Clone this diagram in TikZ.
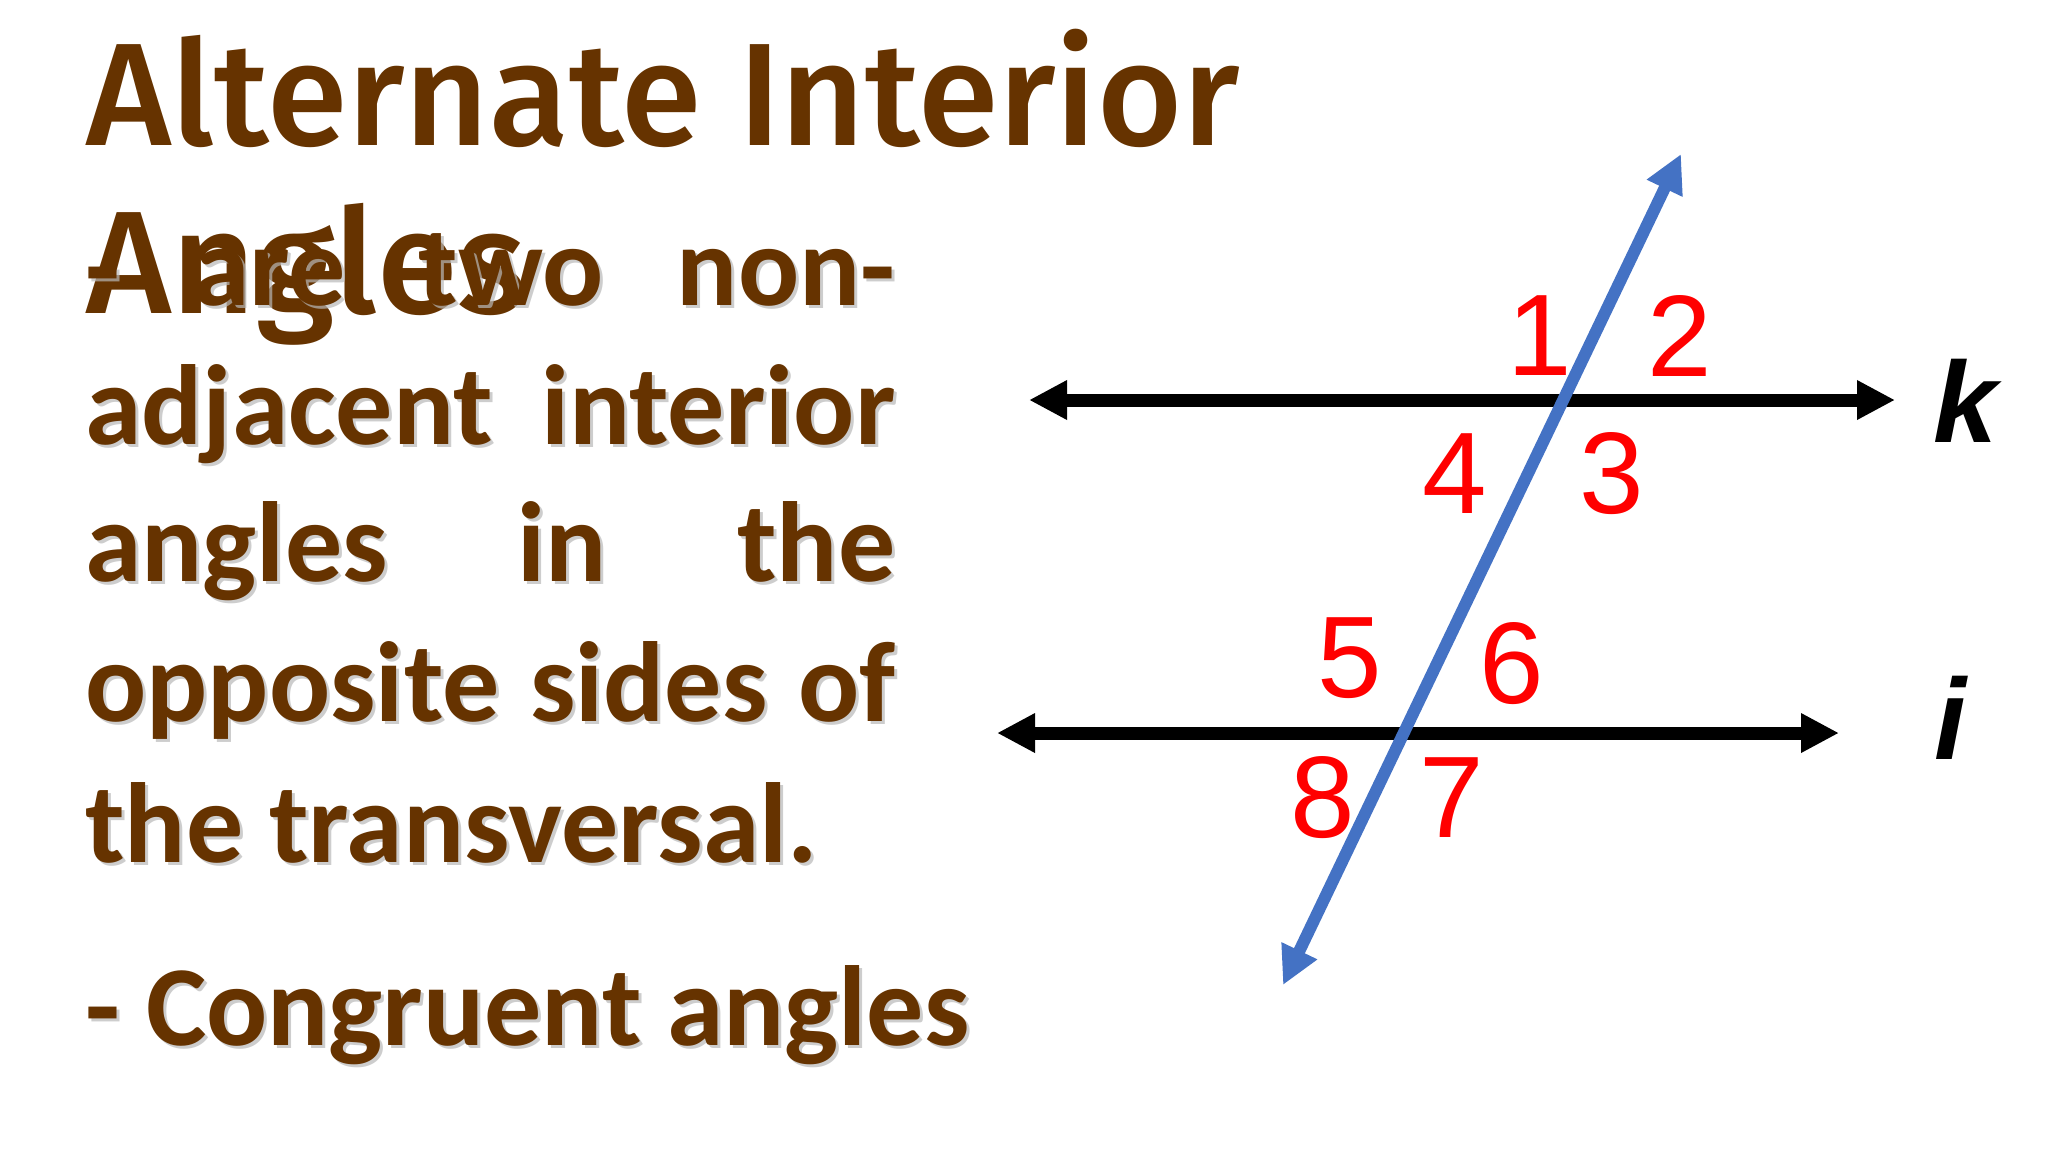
\documentclass[tikz,border=0pt]{standalone}
\usepackage{fontspec}
\setmainfont{Liberation Sans}
\newfontfamily\titlefont{Fira Sans Medium}
\newfontfamily\bodyfont{Carlito}
\usetikzlibrary{arrows.meta}
\definecolor{brownish}{HTML}{663300}
\definecolor{tblue}{HTML}{4472C4}
\definecolor{shadowgray}{HTML}{B8B8B8}
\tikzset{
  titletext/.style={anchor=base west, inner sep=0pt, text=brownish, font=\titlefont\fontsize{73}{73}\selectfont},
  bodytext/.style={anchor=base west, inner sep=0pt, text=brownish, font=\bodyfont\bfseries\fontsize{57}{57}\selectfont},
  bodyshadow/.style={anchor=base west, inner sep=0pt, text=shadowgray, opacity=0.7, font=\bodyfont\bfseries\fontsize{57}{57}\selectfont},
  anglelabel/.style={anchor=base, inner sep=0pt, text=red, font=\fontsize{58}{58}\selectfont},
  linelabel/.style={anchor=base, inner sep=0pt, text=black, font=\bfseries\itshape\fontsize{57.5}{57.5}\selectfont},
  parline/.style={line width=6.5pt, {Triangle[length=19pt,width=18.5pt]}-{Triangle[length=19pt,width=18.5pt]}},
  transline/.style={draw=tblue, line width=6pt, {Triangle[length=19pt,width=18.5pt]}-{Triangle[length=19pt,width=18.5pt]}, tblue}
}
\newcommand{\jline}[1]{\makebox[405pt][s]{#1}}
\begin{document}
\begin{tikzpicture}[x=0.5pt,y=-0.5pt]
\useasboundingbox[fill=white] (0,0) rectangle (2048,1152);
% title
\node[titletext] (t1) at (86,145) {Alternate Interior};
\node[titletext] (t2) at (86,313) {Angles};
% body shadows
\node[bodyshadow] (s1) at (88,308) {\jline{- are two non-}};
\node[bodyshadow] (s2) at (88,447) {\jline{adjacent interior}};
\node[bodyshadow] (s3) at (88,584) {\jline{angles in the}};
\node[bodyshadow] (s4) at (88,724) {\jline{opposite sides of}};
\node[bodyshadow] (s5) at (88,865) {the transversal.};
\node[bodyshadow] (s6) at (88,1048) {- Congruent angles};
% body
\node[bodytext] (b1) at (85,305) {\jline{- are two non-}};
\node[bodytext] (b2) at (85,444) {\jline{adjacent interior}};
\node[bodytext] (b3) at (85,581) {\jline{angles in the}};
\node[bodytext] (b4) at (85,721) {\jline{opposite sides of}};
\node[bodytext] (b5) at (85,862) {the transversal.};
\node[bodytext] (b6) at (85,1045) {- Congruent angles};
% lines
\coordinate (kL) at (1029,400);
\coordinate (kR) at (1895,400);
\coordinate (iL) at (997,733);
\coordinate (iR) at (1839,733);
\coordinate (tT) at (1681,154);
\coordinate (tB) at (1283,985);
\draw[parline] (kL) -- (kR);
\draw[parline] (iL) -- (iR);
\draw[transline] (tB) -- (tT);
% labels
\node[linelabel] (k) at (1965,442) {k};
\node[linelabel] (i) at (1950,759) {i};
\node[anglelabel] (a1) at (1540,375) {1};
\node[anglelabel] (a2) at (1680,376) {2};
\node[anglelabel] (a4) at (1455,513) {4};
\node[anglelabel] (a3) at (1612,513) {3};
\node[anglelabel] (a5) at (1350,697) {5};
\node[anglelabel] (a6) at (1512,703) {6};
\node[anglelabel] (a8) at (1323,837) {8};
\node[anglelabel] (a7) at (1452,837) {7};
\end{tikzpicture}
\end{document}
